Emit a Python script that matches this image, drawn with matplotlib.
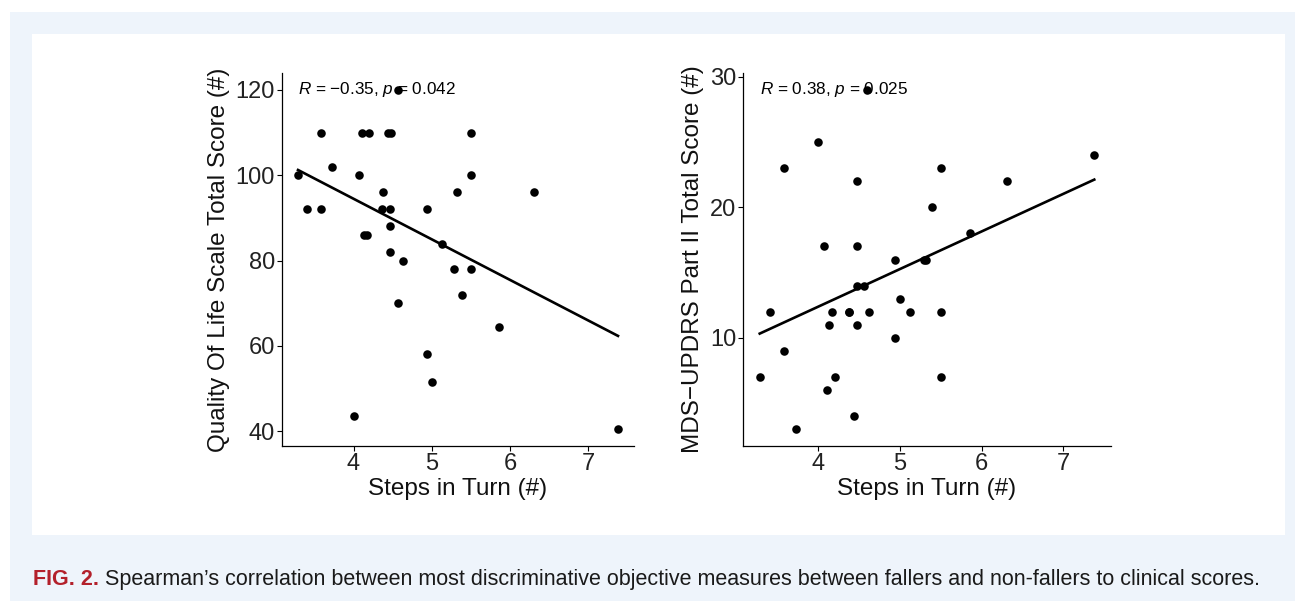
import numpy as np
import matplotlib
matplotlib.use("Agg")
import matplotlib.pyplot as plt
from matplotlib.patches import Rectangle

# === Data ===
steps_qol = [3.29, 3.41, 3.59, 3.58, 3.73, 4.07, 4.00, 4.11, 4.20, 4.13, 4.17,
             4.38, 4.37, 4.44, 4.48, 4.47, 4.47, 4.47, 4.57, 4.63, 4.57, 4.94,
             4.94, 5.00, 5.13, 5.29, 5.32, 5.39, 5.50, 5.50, 5.50, 5.86, 6.31, 7.38]
qol_score = [100, 92, 110, 92, 102, 100, 43.5, 110, 110, 86, 86,
             96, 92, 110, 110, 92, 88, 82, 120, 80, 70, 92,
             58, 51.5, 84, 78, 96, 72, 110, 100, 78, 64.5, 96, 40.5]

steps_upd = [3.28, 3.41, 3.58, 3.58, 3.73, 4.00, 4.07, 4.11, 4.44, 4.13, 4.17,
             4.20, 4.38, 4.37, 4.47, 4.47, 4.47, 4.47, 4.56, 4.59, 4.62, 4.94,
             4.94, 5.00, 5.12, 5.29, 5.32, 5.39, 5.50, 5.50, 5.50, 5.86, 6.31, 7.38]
updrs_score = [7, 12, 23, 9, 3, 25, 17, 6, 4, 11, 12,
               7, 12, 12, 22, 17, 14, 11, 14, 29, 12, 16,
               10, 13, 12, 16, 16, 20, 23, 12, 7, 18, 22, 24]

x_ticks = [4, 5, 6, 7]
qol_ticks = [40, 60, 80, 100, 120]
upd_ticks = [10, 20, 30]

qol_label = "$R$ = \u22120.35, $p$ = 0.042"
upd_label = "$R$ = 0.38, $p$ = 0.025"

plt.rcParams['font.family'] = ['Liberation Sans', 'DejaVu Sans']
plt.rcParams['mathtext.fontset'] = 'custom'
plt.rcParams['mathtext.rm'] = 'Liberation Sans'
plt.rcParams['mathtext.it'] = 'Liberation Sans:italic'

W, H = 1295, 601
fig = plt.figure(figsize=(W / 100, H / 100), dpi=100)
fig.patch.set_facecolor('white')

# fonds (bleu clair + panneau blanc)
fig.add_artist(Rectangle((10 / W, 0), 1 - 10 / W, 1 - 12 / H, transform=fig.transFigure,
                         facecolor='#eef4fb', edgecolor='none', zorder=-10))
fig.add_artist(Rectangle((32 / W, (H - 535) / H), (1285 - 32) / W, (535 - 34) / H,
                         transform=fig.transFigure, facecolor='white', edgecolor='none', zorder=-9))


def panel(rect, x, y, yticks, ylabel, label):
    ax = fig.add_axes(rect)
    ax.set_facecolor('none')
    ax.scatter(x, y, s=38, color='black', linewidths=0, zorder=3)
    # droite de regression
    k, b = np.polyfit(x, y, 1)
    xs = np.array([min(x), max(x)])
    ax.plot(xs, k * xs + b, color='black', lw=1.9, zorder=2)
    ax.margins(0.05)
    ax.set_xticks(x_ticks)
    ax.set_yticks(yticks)
    for s in ['top', 'right']:
        ax.spines[s].set_visible(False)
    for s in ['left', 'bottom']:
        ax.spines[s].set_linewidth(0.9)
    ax.tick_params(labelsize=17, length=3.5, width=0.8, pad=1.5, colors='black')
    ax.tick_params(axis='x', labelcolor='#222222')
    ax.tick_params(axis='y', labelcolor='#222222')
    ax.set_xlabel("Steps in Turn (#)", fontsize=17.5, labelpad=2.5, color='#111111')
    ax.set_ylabel(ylabel, fontsize=17.5, labelpad=4, color='#111111')
    ax.text(min(x), max(y), label, fontsize=12.3, ha='left', va='center')
    return ax


ax1 = panel([282 / W, (H - 446) / H, 352 / W, 373 / H], steps_qol, qol_score,
            qol_ticks, "Quality Of Life Scale Total Score (#)", qol_label)
ax2 = panel([743 / W, (H - 446) / H, 368 / W, 373 / H], steps_upd, updrs_score,
            upd_ticks, "MDS\u2212UPDRS Part II Total Score (#)", upd_label)

# legende de la figure
t1 = fig.text(33 / W, 16 / H, "FIG. 2.", color='#b3202b', fontsize=15.5, fontweight='bold',
              ha='left', va='baseline')
ax1.annotate("Spearman\u2019s correlation between most discriminative objective measures between "
             "fallers and non-fallers to clinical scores.",
             xy=(1, 0), xycoords=t1, xytext=(4, 0), textcoords='offset points',
             fontsize=15.5, color='#1a1a1a', ha='left', va='bottom', annotation_clip=False)

fig.savefig("out.png", dpi=100)
